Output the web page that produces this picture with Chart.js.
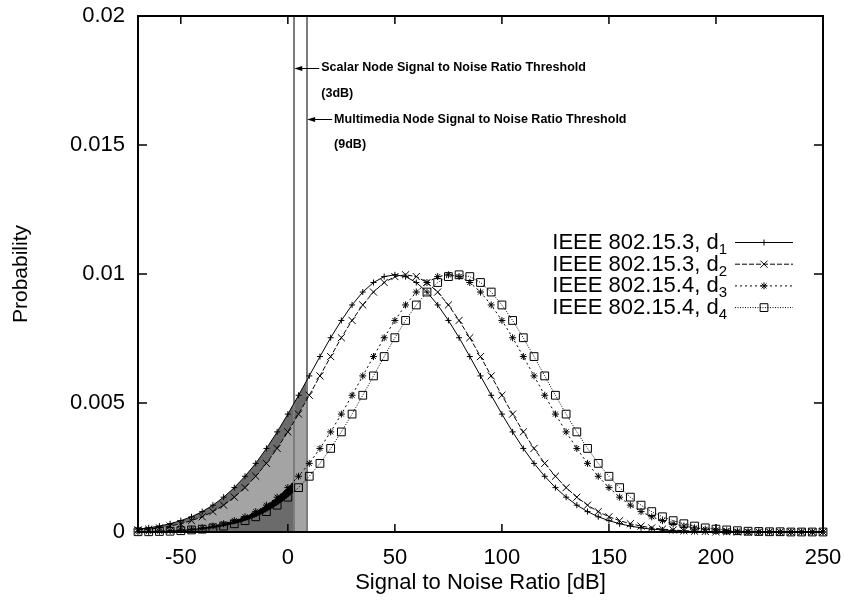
<!DOCTYPE html>
<html>
<head>
<meta charset="utf-8">
<title>SNR probability</title>
<script src="https://cdn.jsdelivr.net/npm/chart.js@4.4.1/dist/chart.umd.min.js"></script>
<style>
    html, body { margin: 0; padding: 0; background: #fff; }
    #wrap { width: 844px; height: 601px; }
</style>
</head>
<body>
<div id="wrap"><canvas id="snrChart"></canvas></div>
<script>
// eje x: relacion senal/ruido en dB
const snr = [-70, -65, -60, -55, -50, -45, -40, -35, -30, -25, -20, -15, -10, -5, 0, 5, 10, 15, 20, 25,
    30, 35, 40, 45, 50, 55, 60, 65, 70, 75, 80, 85, 90, 95, 100, 105, 110, 115, 120, 125,
    130, 135, 140, 145, 150, 155, 160, 165, 170, 175, 180, 185, 190, 195, 200, 205, 210, 215, 220, 225,
    230, 235, 240, 245, 250];

const d1 = [0.00011, 0.00016, 0.00023, 0.00032, 0.00044, 0.00059, 0.00079, 0.00104, 0.00135, 0.00172,
    0.00216, 0.00266, 0.00324, 0.00388, 0.00457, 0.00530, 0.00605, 0.00680, 0.00753, 0.00820,
    0.00880, 0.00930, 0.00967, 0.00990, 0.00997, 0.00990, 0.00967, 0.00930, 0.00880, 0.00820,
    0.00753, 0.00680, 0.00605, 0.00530, 0.00457, 0.00388, 0.00324, 0.00266, 0.00216, 0.00172,
    0.00135, 0.00104, 0.00079, 0.00059, 0.00044, 0.00032, 0.00023, 0.00016, 0.00011, 0.00008,
    0.00005, 0.00003, 0.00002, 0.00001, 0.00001, 0, 0, 0, 0, 0, 0, 0, 0, 0, 0];

const d2 = [0.00008, 0.00011, 0.00016, 0.00023, 0.00032, 0.00044, 0.00059, 0.00079, 0.00104, 0.00135,
    0.00172, 0.00216, 0.00266, 0.00324, 0.00388, 0.00457, 0.00530, 0.00605, 0.00680, 0.00753,
    0.00820, 0.00880, 0.00930, 0.00967, 0.00990, 0.00997, 0.00990, 0.00967, 0.00930, 0.00880,
    0.00820, 0.00753, 0.00680, 0.00605, 0.00530, 0.00457, 0.00388, 0.00324, 0.00266, 0.00216,
    0.00172, 0.00135, 0.00104, 0.00079, 0.00059, 0.00044, 0.00032, 0.00023, 0.00016, 0.00011,
    0.00008, 0.00005, 0.00003, 0.00002, 0.00001, 0.00001, 0, 0, 0, 0, 0, 0, 0, 0, 0];

const d3 = [0.00001, 0.00002, 0.00003, 0.00005, 0.00008, 0.00011, 0.00016, 0.00023, 0.00032, 0.00044,
    0.00059, 0.00079, 0.00104, 0.00135, 0.00172, 0.00216, 0.00266, 0.00324, 0.00388, 0.00457,
    0.00530, 0.00605, 0.00680, 0.00753, 0.00820, 0.00880, 0.00930, 0.00967, 0.00990, 0.00997,
    0.00990, 0.00967, 0.00930, 0.00880, 0.00820, 0.00753, 0.00680, 0.00605, 0.00530, 0.00457,
    0.00388, 0.00324, 0.00266, 0.00216, 0.00172, 0.00135, 0.00104, 0.00079, 0.00059, 0.00044,
    0.00032, 0.00023, 0.00016, 0.00011, 0.00008, 0.00005, 0.00003, 0.00002, 0.00001, 0.00001,
    0, 0, 0, 0, 0];

const d4 = [0.00001, 0.00001, 0.00002, 0.00003, 0.00005, 0.00008, 0.00011, 0.00016, 0.00023, 0.00032,
    0.00044, 0.00059, 0.00079, 0.00104, 0.00135, 0.00172, 0.00216, 0.00266, 0.00324, 0.00388,
    0.00457, 0.00530, 0.00605, 0.00680, 0.00753, 0.00820, 0.00880, 0.00930, 0.00967, 0.00990,
    0.00997, 0.00990, 0.00967, 0.00930, 0.00880, 0.00820, 0.00753, 0.00680, 0.00605, 0.00530,
    0.00457, 0.00388, 0.00324, 0.00266, 0.00216, 0.00172, 0.00135, 0.00104, 0.00079, 0.00059,
    0.00044, 0.00032, 0.00023, 0.00016, 0.00011, 0.00008, 0.00005, 0.00003, 0.00002, 0.00001,
    0.00001, 0, 0, 0, 0];

const seriesNames = ['IEEE 802.15.3, d', 'IEEE 802.15.3, d', 'IEEE 802.15.4, d', 'IEEE 802.15.4, d'];
const seriesSubs = ['1', '2', '3', '4'];

const xTicks = [-50, 0, 50, 100, 150, 200, 250];
const yTicks = [0, 0.005, 0.01, 0.015, 0.02];

const scalarThreshold = 3;
const multimediaThreshold = 9;

const notes = [
    { x: scalarThreshold, arrowY: 0.018, lines: ['Scalar Node Signal to Noise Ratio Threshold', '(3dB)'], lineY: [0.018, 0.017] },
    { x: multimediaThreshold, arrowY: 0.016, lines: ['Multimedia Node Signal to Noise Ratio Threshold', '(9dB)'], lineY: [0.016, 0.015] }
];

const FONT = '"Liberation Sans", Arial, Helvetica, sans-serif';
Chart.defaults.font.family = FONT;
Chart.defaults.color = '#000';

const estilos = [
    { data: d1, dash: [], point: 'cross', radius: 3 },
    { data: d2, dash: [5, 2], point: 'crossRot', radius: 5 },
    { data: d3, dash: [2, 3], point: 'star', radius: 3.5 },
    { data: d4, dash: [1, 1.5], point: 'rect', radius: 5.5 }
];

// zonas sombreadas bajo las curvas hasta el umbral
const sombras = [
    { data: d1, limit: multimediaThreshold, color: '#6b6b6b' },
    { data: d2, limit: multimediaThreshold, color: '#a4a4a4' },
    { data: d3, limit: scalarThreshold, color: '#000000' },
    { data: d4, limit: scalarThreshold, color: '#6b6b6b' }
];

const sombrasPlugin = {
    id: 'sombras',
    beforeDatasetsDraw(chart) {
        const { ctx, chartArea, scales: { x, y } } = chart;
        sombras.forEach(s => {
            ctx.save();
            ctx.beginPath();
            ctx.rect(chartArea.left, chartArea.top, x.getPixelForValue(s.limit) - chartArea.left, chartArea.bottom - chartArea.top);
            ctx.clip();
            ctx.beginPath();
            ctx.moveTo(x.getPixelForValue(snr[0]), y.getPixelForValue(0));
            snr.forEach((v, i) => ctx.lineTo(x.getPixelForValue(v), y.getPixelForValue(s.data[i])));
            ctx.lineTo(x.getPixelForValue(snr[snr.length - 1]), y.getPixelForValue(0));
            ctx.closePath();
            ctx.fillStyle = s.color;
            ctx.fill();
            ctx.restore();
        });
        // lineas de umbral
        ctx.save();
        ctx.strokeStyle = '#7c7c7c';
        ctx.lineWidth = 2;
        [scalarThreshold, multimediaThreshold].forEach(t => {
            const px = Math.round(x.getPixelForValue(t));
            ctx.beginPath();
            ctx.moveTo(px, chartArea.top);
            ctx.lineTo(px, chartArea.bottom);
            ctx.stroke();
        });
        ctx.restore();
    }
};

const marcoPlugin = {
    id: 'marco',
    afterDraw(chart) {
        const { ctx, chartArea: a, scales: { x, y } } = chart;
        ctx.save();
        ctx.strokeStyle = '#000';
        ctx.lineWidth = 1.5;
        ctx.beginPath();
        xTicks.forEach(v => {
            const px = x.getPixelForValue(v);
            ctx.moveTo(px, a.bottom); ctx.lineTo(px, a.bottom - 8);
            ctx.moveTo(px, a.top); ctx.lineTo(px, a.top + 8);
        });
        yTicks.forEach(v => {
            const py = y.getPixelForValue(v);
            ctx.moveTo(a.left, py); ctx.lineTo(a.left + 9, py);
            ctx.moveTo(a.right, py); ctx.lineTo(a.right - 9, py);
        });
        ctx.stroke();
        ctx.lineWidth = 2;
        ctx.strokeRect(a.left, a.top, a.right - a.left, a.bottom - a.top);

        // anotaciones con flecha
        ctx.lineWidth = 1;
        ctx.fillStyle = '#000';
        ctx.font = 'bold 12.5px ' + FONT;
        ctx.textAlign = 'left';
        ctx.textBaseline = 'middle';
        notes.forEach(n => {
            const tipX = x.getPixelForValue(n.x);
            const py = Math.round(y.getPixelForValue(n.arrowY)) + 0.5;
            ctx.beginPath();
            ctx.moveTo(tipX + 25, py);
            ctx.lineTo(tipX + 4, py);
            ctx.stroke();
            ctx.beginPath();
            ctx.moveTo(tipX, py);
            ctx.lineTo(tipX + 8, py - 2.5);
            ctx.lineTo(tipX + 8, py + 2.5);
            ctx.closePath();
            ctx.fill();
            n.lines.forEach((t, i) => ctx.fillText(t, tipX + 27, y.getPixelForValue(n.lineY[i])));
        });

        // leyenda
        const sampleLeft = a.right - 88;
        const sampleRight = a.right - 30;
        const textRight = sampleLeft - 8;
        const rowTop = a.top + 226;
        const rowStep = 21.7;
        estilos.forEach((e, i) => {
            const ry = rowTop + i * rowStep;
            ctx.font = '22px ' + FONT;
            const w1 = ctx.measureText(seriesNames[i]).width;
            ctx.font = '15px ' + FONT;
            const w2 = ctx.measureText(seriesSubs[i]).width;
            ctx.textBaseline = 'alphabetic';
            ctx.font = '22px ' + FONT;
            ctx.fillText(seriesNames[i], textRight - w1 - w2, ry + 7);
            ctx.font = '15px ' + FONT;
            ctx.fillText(seriesSubs[i], textRight - w2, ry + 12);

            ctx.save();
            ctx.setLineDash(e.dash);
            ctx.beginPath();
            ctx.moveTo(sampleLeft, ry + 0.5);
            ctx.lineTo(sampleRight, ry + 0.5);
            ctx.stroke();
            ctx.restore();
            ctx.fillStyle = 'rgba(0,0,0,0)';
            Chart.helpers.drawPoint(ctx, { pointStyle: e.point, radius: e.radius, rotation: 0, borderWidth: 1 }, (sampleLeft + sampleRight) / 2, ry + 0.5);
            ctx.fillStyle = '#000';
        });
        ctx.restore();
    }
};

new Chart(document.getElementById('snrChart'), {
    type: 'line',
    data: {
        datasets: estilos.map((e, i) => ({
            label: seriesNames[i] + seriesSubs[i],
            data: snr.map((v, j) => ({ x: v, y: e.data[j] })),
            borderColor: '#000',
            borderWidth: 1,
            borderDash: e.dash,
            tension: 0,
            fill: false,
            pointStyle: e.point,
            pointRadius: e.radius,
            pointBorderColor: '#000',
            pointBackgroundColor: 'rgba(0,0,0,0)',
            pointBorderWidth: 1,
            clip: false
        }))
    },
    options: {
        animation: false,
        responsive: true,
        maintainAspectRatio: false,
        layout: { padding: { top: 16, right: 21, left: 0, bottom: 0 } },
        plugins: {
            legend: { display: false },
            tooltip: { enabled: false }
        },
        scales: {
            x: {
                type: 'linear',
                min: -70,
                max: 250,
                afterBuildTicks: s => { s.ticks = xTicks.map(v => ({ value: v })); },
                afterFit: s => { s.height = 69; s.paddingLeft = 0; s.paddingRight = 0; },
                grid: { display: false, drawTicks: false },
                border: { display: false },
                ticks: { font: { size: 22 }, padding: 13, callback: v => String(v) },
                title: { display: true, text: 'Signal to Noise Ratio [dB]', font: { size: 22 }, padding: { bottom: 5 } }
            },
            y: {
                type: 'linear',
                min: 0,
                max: 0.02,
                afterBuildTicks: s => { s.ticks = yTicks.map(v => ({ value: v })); },
                afterFit: s => { s.width = 138; s.paddingTop = 0; s.paddingBottom = 0; },
                grid: { display: false, drawTicks: false },
                border: { display: false },
                ticks: { font: { size: 22 }, padding: 13, callback: v => String(v) },
                title: { display: true, text: 'Probability', font: { size: 21 }, padding: { top: 9 } }
            }
        }
    },
    plugins: [sombrasPlugin, marcoPlugin]
});
</script>
</body>
</html>
